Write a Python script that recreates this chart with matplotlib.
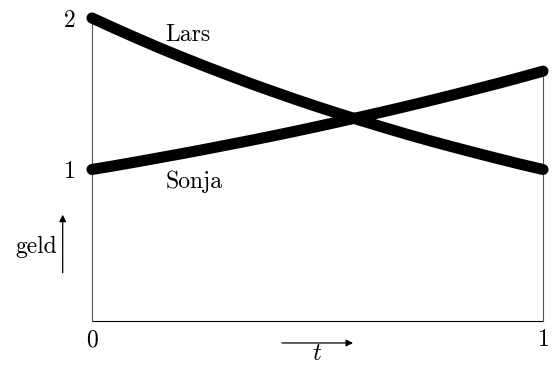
import numpy as np
import matplotlib.pyplot as plt

plt.rcParams['font.family'] = 'cmr10'
plt.rcParams['mathtext.fontset'] = 'cm'
plt.rcParams['axes.formatter.use_mathtext'] = True

# values
t = [0.0, 0.05, 0.1, 0.15, 0.2, 0.25, 0.3, 0.35, 0.4, 0.45, 0.5,
     0.55, 0.6, 0.65, 0.7, 0.75, 0.8, 0.85, 0.9, 0.95, 1.0]
lars = [2.0, 1.932, 1.866, 1.802, 1.741, 1.682, 1.625, 1.569, 1.516, 1.464, 1.414,
        1.366, 1.320, 1.275, 1.231, 1.189, 1.149, 1.110, 1.072, 1.035, 1.0]
sonja = [1.0, 1.025, 1.051, 1.078, 1.105, 1.133, 1.162, 1.191, 1.221, 1.252, 1.284,
         1.317, 1.350, 1.384, 1.419, 1.455, 1.492, 1.530, 1.568, 1.608, 1.649]
xticks = [0, 1]
yticks = [1, 2]

fig = plt.figure(figsize=(5.55, 3.65), dpi=100)
ax = fig.add_axes([92/555, 44/365, 451/555, 303/365])
ax.set_xlim(0, 1)
ax.set_ylim(0, 2)
for s in ax.spines.values():
    s.set_visible(False)

# frame lines
ax.plot([0, 1], [0, 0], color='black', lw=0.8, clip_on=False)
ax.plot([0, 0], [0, lars[0]], color='#555555', lw=0.8, clip_on=False)
ax.plot([1, 1], [0, sonja[-1]], color='#555555', lw=0.8, clip_on=False)

ax.plot(t, lars, color='black', lw=8, solid_capstyle='round', clip_on=False)
ax.plot(t, sonja, color='black', lw=8, solid_capstyle='round', clip_on=False)

ax.set_xticks(xticks)
ax.set_yticks(yticks)
ax.tick_params(length=0, labelsize=17, pad=6)
ax.tick_params(axis='y', pad=12)

ax.text(0.163, 1.885, 'Lars', fontsize=17, ha='left', va='center')
ax.text(0.163, 0.92, 'Sonja', fontsize=17, ha='left', va='center')

ax.annotate('', xy=(-0.065, 0.72), xytext=(-0.065, 0.3), xycoords='data',
            arrowprops=dict(arrowstyle='-|>', color='black', lw=0.9, mutation_scale=10),
            annotation_clip=False)
ax.text(-0.123, 0.49, 'geld', fontsize=17, ha='center', va='center')

ax.annotate('', xy=(0.585, -0.145), xytext=(0.415, -0.145), xycoords='data',
            arrowprops=dict(arrowstyle='-|>', color='black', lw=0.9, mutation_scale=10),
            annotation_clip=False)
ax.text(0.5, -0.218, '$t$', fontsize=18, ha='center', va='center')

fig.savefig('out.png', dpi=100)
